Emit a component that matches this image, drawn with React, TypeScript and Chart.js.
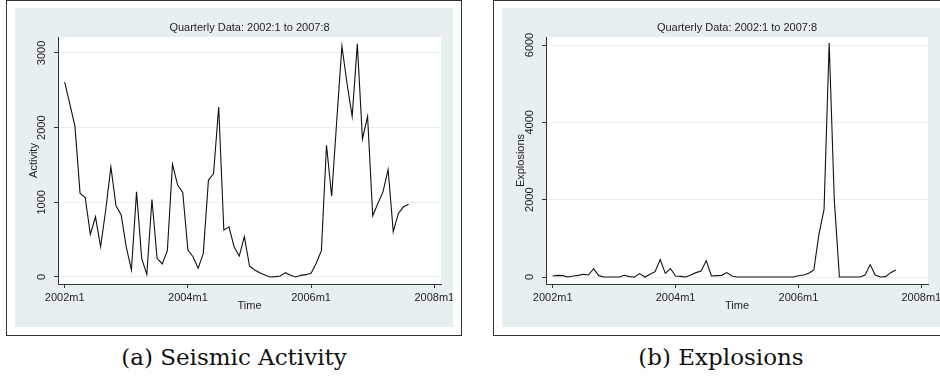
import React, { useEffect, useRef } from 'react';
import { Chart, registerables } from 'chart.js';

Chart.register(...registerables);

// Monthly observations, 2002m1 .. 2007m8 (68 months)
const startYear = 2002;
const seismic = [
  2610, 2320, 2020, 1120, 1065, 570, 806, 405, 900, 1474,
  953, 830, 400, 94, 1140, 250, 36, 1038, 250, 174,
  352, 1510, 1230, 1131, 360, 272, 116, 316, 1296, 1385,
  2276, 628, 672, 405, 280, 540, 147, 94, 58, 27,
  0, 5, 13, 58, 22, 0, 22, 31, 49, 183,
  352, 1764, 1082, 2100, 3091, 2588, 2151, 3122, 1849, 2151,
  820, 984, 1140, 1439, 606, 851, 940, 975,
];
const explosions = [
  26, 43, 35, 0, 26, 43, 69, 52, 216, 35,
  0, 0, 0, 0, 43, 9, 0, 87, 0, 70,
  139, 450, 95, 220, 26, 17, 0, 52, 113, 156,
  424, 26, 35, 43, 113, 26, 0, 0, 0, 0,
  0, 0, 0, 0, 0, 0, 0, 0, 34, 52,
  95, 181, 1100, 1750, 6050, 2000, 0, 0, 0, 0,
  0, 52, 320, 52, 0, 9, 112, 181,
];
const monthLabels = seismic.map((_, i) => `${startYear + Math.floor(i / 12)}m${(i % 12) + 1}`);
const xTickValues = [0, 24, 48, 72];
const xTickLabels = ['2002m1', '2004m1', '2006m1', '2008m1'];
const seismicTicks = [0, 1000, 2000, 3000];
const explosionTicks = [0, 2000, 4000, 6000];
const chartTitle = 'Quarterly Data: 2002:1 to 2007:8';
const xTitle = 'Time';

const BG = '#e8eff1';
const INK = '#1e1e1e';
const AXIS = '#333333';
const FONT = "'Liberation Sans', Arial, sans-serif";

type PanelProps = {
  values: number[];
  yTitle: string;
  yTicks: number[];
  yMin: number;
  yMax: number;
  yAxisWidth: number;
};

function Panel({ values, yTitle, yTicks, yMin, yMax, yAxisWidth }: PanelProps) {
  const ref = useRef<HTMLCanvasElement | null>(null);
  useEffect(() => {
    if (!ref.current) return;
    const bgPlugin = {
      id: 'panelBg',
      beforeDraw(chart: any) {
        const { ctx, chartArea: a, width, height } = chart;
        ctx.save();
        ctx.fillStyle = BG;
        ctx.fillRect(0, 0, width, height);
        ctx.fillStyle = '#ffffff';
        ctx.fillRect(a.left, a.top, a.right - a.left, a.bottom - a.top);
        ctx.restore();
      },
    };
    const font = { family: FONT, size: 11, weight: 'normal' as const };
    const chart = new Chart(ref.current, {
      type: 'line',
      data: {
        labels: monthLabels,
        datasets: [
          {
            data: values.map((v, i) => ({ x: i, y: v })),
            borderColor: '#111111',
            borderWidth: 1.1,
            pointRadius: 0,
            tension: 0,
            fill: false,
          },
        ],
      },
      options: {
        animation: false,
        responsive: false,
        maintainAspectRatio: false,
        layout: { padding: { top: 0, right: 12, bottom: 0, left: 0 } },
        plugins: {
          legend: { display: false },
          tooltip: { enabled: false },
          title: {
            display: true,
            text: chartTitle,
            fullSize: false,
            color: INK,
            font,
            padding: { top: 13, bottom: 2.8 },
          },
        },
        scales: {
          x: {
            type: 'linear',
            min: -1.3,
            max: 73.3,
            afterBuildTicks: (s: any) => {
              s.ticks = xTickValues.map((v) => ({ value: v }));
            },
            afterFit: (s: any) => {
              s.height = 43;
              s.paddingLeft = 0;
              s.paddingRight = 0;
            },
            ticks: {
              callback: (v: any) => {
                const k = xTickValues.indexOf(Number(v));
                return k >= 0 ? xTickLabels[k] : '';
              },
              color: INK,
              font,
              padding: 3,
              maxRotation: 0,
              minRotation: 0,
              autoSkip: false,
            },
            grid: { drawOnChartArea: false, drawTicks: true, tickLength: 4, tickColor: AXIS },
            border: { color: AXIS, width: 1 },
            title: { display: true, text: xTitle, color: INK, font, padding: { top: 0, bottom: 14 } },
          },
          y: {
            type: 'linear',
            min: yMin,
            max: yMax,
            afterBuildTicks: (s: any) => {
              s.ticks = yTicks.map((v) => ({ value: v }));
            },
            afterFit: (s: any) => {
              s.width = yAxisWidth;
              s.paddingTop = 0;
              s.paddingBottom = 0;
            },
            ticks: {
              callback: (v: any) => String(v),
              color: INK,
              font,
              minRotation: 90,
              maxRotation: 90,
              crossAlign: 'center',
              padding: 0,
              autoSkip: false,
            },
            grid: { color: BG, lineWidth: 1, tickLength: 4, tickColor: AXIS },
            border: { color: AXIS, width: 1 },
            title: { display: true, text: yTitle, color: INK, font, padding: { top: 12, bottom: 0 } },
          },
        },
      } as any,
      plugins: [bgPlugin],
    });
    return () => chart.destroy();
  }, [values, yTitle, yTicks, yMin, yMax, yAxisWidth]);
  return <canvas ref={ref} width={438} height={319} style={{ display: 'block', width: 438, height: 319 }} />;
}

const captionStyle: React.CSSProperties = {
  position: 'absolute',
  top: 344,
  width: 456,
  textAlign: 'center',
  fontFamily: "'DejaVu Serif', 'Liberation Serif', serif",
  fontSize: 23,
  lineHeight: '27px',
  color: '#111',
  whiteSpace: 'nowrap',
};

export default function App() {
  return (
    <div style={{ position: 'absolute', left: 0, top: 0, width: 940, height: 378, overflow: 'hidden', background: '#fff' }}>
      <div style={{ position: 'absolute', left: 6, top: 0, width: 456, height: 336, border: `1px solid ${AXIS}`, boxSizing: 'border-box' }} />
      <div style={{ position: 'absolute', left: 15, top: 8 }}>
        <Panel values={seismic} yTitle="Activity" yTicks={seismicTicks} yMin={-94} yMax={3214} yAxisWidth={43} />
      </div>
      <div style={{ ...captionStyle, left: 6 }}>(a) Seismic Activity</div>

      <div style={{ position: 'absolute', left: 493, top: 0, width: 456, height: 336, border: `1px solid ${AXIS}`, boxSizing: 'border-box' }} />
      <div style={{ position: 'absolute', left: 502, top: 8 }}>
        <Panel values={explosions} yTitle="Explosions" yTicks={explosionTicks} yMin={-181} yMax={6207} yAxisWidth={44} />
      </div>
      <div style={{ ...captionStyle, left: 493 }}>(b) Explosions</div>
    </div>
  );
}
